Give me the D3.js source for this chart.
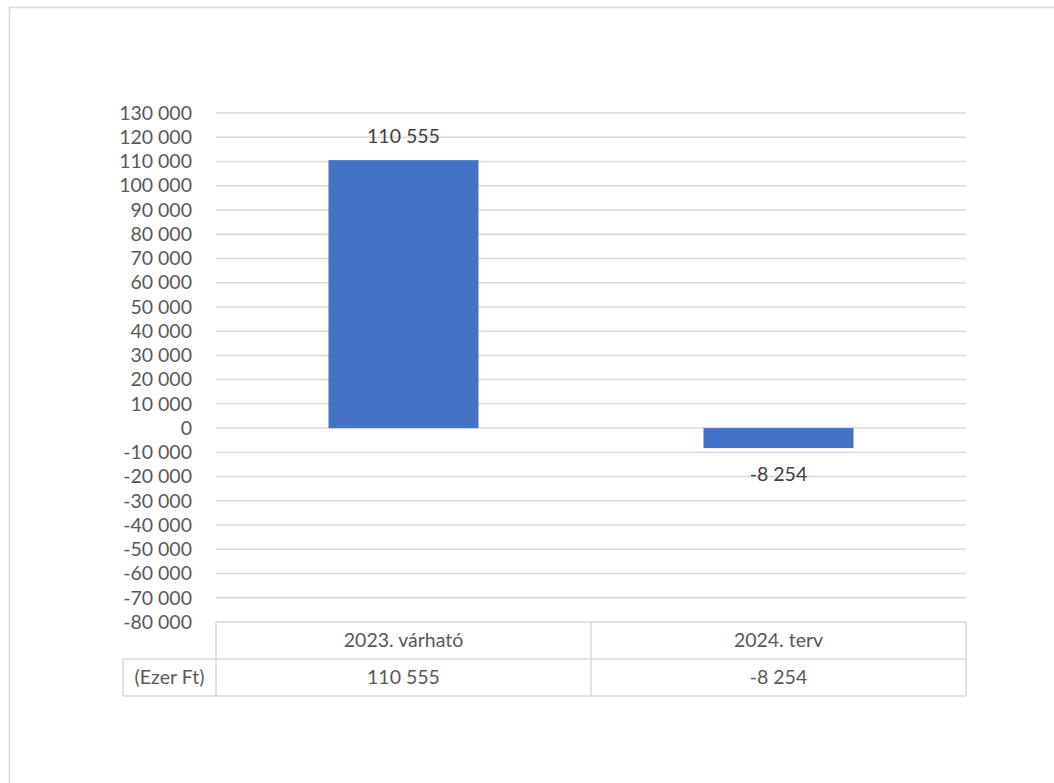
<!DOCTYPE html>
<html>
<head>
<meta charset="utf-8">
<script src="https://cdn.jsdelivr.net/npm/d3@7"></script>
<style>
  body { margin: 0; background: #fff; }
  svg { display: block; }
  text { font-family: Lato, "Open Sans", sans-serif; }
</style>
</head>
<body>
<svg id="chart"></svg>
<script>
/** Chart data **/
var categories = ["2023. várható", "2024. terv"];
var values = [110555, -8254];
var valueLabels = ["110 555", "-8 254"];
var unitLabel = "(Ezer Ft)";
var tickValues = [130000, 120000, 110000, 100000, 90000, 80000, 70000, 60000, 50000,
                  40000, 30000, 20000, 10000, 0, -10000, -20000, -30000, -40000,
                  -50000, -60000, -70000, -80000];

function drawChart()
{
    var width = 1054;
    var height = 783;

    var plot_left = 216;
    var plot_right = 966;
    var plot_top = 113;
    var plot_bottom = 622;
    var row_h = 37;
    var unit_left = 123;
    var font_size = "19.5px";

    var color_bar = '#4472C4';
    var color_grid = '#d9d9d9';
    var color_axis_text = '#595959';
    var color_label = '#404040';

    var svg = d3.select("#chart")
        .attr("width", width)
        .attr("height", height);

    // Outer chart frame (extends past the picture on right and bottom)
    svg.append("rect")
        .attr("x", 9.5).attr("y", 7.5)
        .attr("width", width + 20).attr("height", height + 20)
        .attr("fill", "none")
        .attr("stroke", color_grid)
        .attr("stroke-width", 1.5);

    var xScale = d3.scaleBand()
        .domain(categories)
        .range([plot_left, plot_right])
        .paddingInner(0)
        .paddingOuter(0);

    var yScale = d3.scaleLinear()
        .domain([-80000, 130000])
        .range([plot_bottom, plot_top]);

    // Space as thousands separator, plain hyphen for minus
    var fmt = function(v) {
        return d3.format(",")(v).replace(/,/g, " ").replace(/\u2212/g, "-");
    };

    // Gridlines
    svg.append("g")
        .selectAll("line")
        .data(tickValues.filter(function(d) { return d > -80000; }))
        .enter().append("line")
        .attr("x1", plot_left).attr("x2", plot_right)
        .attr("y1", function(d) { return yScale(d); })
        .attr("y2", function(d) { return yScale(d); })
        .attr("stroke", color_grid)
        .attr("stroke-width", 1.5);

    // Y axis
    var yAxis = d3.axisLeft(yScale)
        .tickValues(tickValues)
        .tickSize(0)
        .tickPadding(0)
        .tickFormat(fmt);

    var gy = svg.append("g")
        .attr("transform", "translate(192,0)")
        .call(yAxis);
    gy.select(".domain").remove();
    gy.selectAll("text")
        .attr("fill", color_axis_text)
        .style("font-size", font_size)
        .style("font-family", "Lato, sans-serif");

    // Bars
    var barW = xScale.bandwidth() * 0.4;
    svg.append("g")
        .selectAll("rect")
        .data(values)
        .enter().append("rect")
        .attr("x", function(d, i) { return xScale(categories[i]) + (xScale.bandwidth() - barW) / 2; })
        .attr("y", function(d) { return yScale(Math.max(d, 0)); })
        .attr("width", barW)
        .attr("height", function(d) { return Math.abs(yScale(d) - yScale(0)); })
        .attr("fill", color_bar);

    // Data labels
    svg.append("g")
        .selectAll("text")
        .data(values)
        .enter().append("text")
        .attr("x", function(d, i) { return xScale(categories[i]) + xScale.bandwidth() / 2; })
        .attr("y", function(d) { return d >= 0 ? yScale(d) - 17 : yScale(d) + 33; })
        .attr("text-anchor", "middle")
        .attr("fill", color_label)
        .style("font-size", font_size)
        .text(function(d, i) { return valueLabels[i]; });

    // Data table
    var table = svg.append("g")
        .attr("stroke", color_grid)
        .attr("stroke-width", 1.5)
        .attr("fill", "none");

    var row1 = plot_bottom;
    var row2 = plot_bottom + row_h;
    var row3 = plot_bottom + row_h * 2;

    table.append("line").attr("x1", plot_left).attr("x2", plot_right).attr("y1", row1).attr("y2", row1);
    table.append("line").attr("x1", unit_left).attr("x2", plot_right).attr("y1", row2).attr("y2", row2);
    table.append("line").attr("x1", unit_left).attr("x2", plot_right).attr("y1", row3).attr("y2", row3);
    table.append("line").attr("x1", unit_left).attr("x2", unit_left).attr("y1", row2).attr("y2", row3);

    var colEdges = categories.map(function(c) { return xScale(c); }).concat([plot_right]);
    table.selectAll(".vcol")
        .data(colEdges)
        .enter().append("line")
        .attr("x1", function(d) { return d; })
        .attr("x2", function(d) { return d; })
        .attr("y1", row1).attr("y2", row3);

    var tText = svg.append("g")
        .attr("fill", color_axis_text)
        .style("font-size", font_size)
        .attr("text-anchor", "middle");

    tText.selectAll(".cat")
        .data(categories)
        .enter().append("text")
        .attr("x", function(d) { return xScale(d) + xScale.bandwidth() / 2; })
        .attr("y", row1 + 25)
        .text(function(d) { return d; });

    tText.selectAll(".val")
        .data(valueLabels)
        .enter().append("text")
        .attr("x", function(d, i) { return xScale(categories[i]) + xScale.bandwidth() / 2; })
        .attr("y", row2 + 25)
        .text(function(d) { return d; });

    tText.append("text")
        .attr("x", (unit_left + plot_left) / 2)
        .attr("y", row2 + 25)
        .text(unitLabel);
}

drawChart();
</script>
</body>
</html>
